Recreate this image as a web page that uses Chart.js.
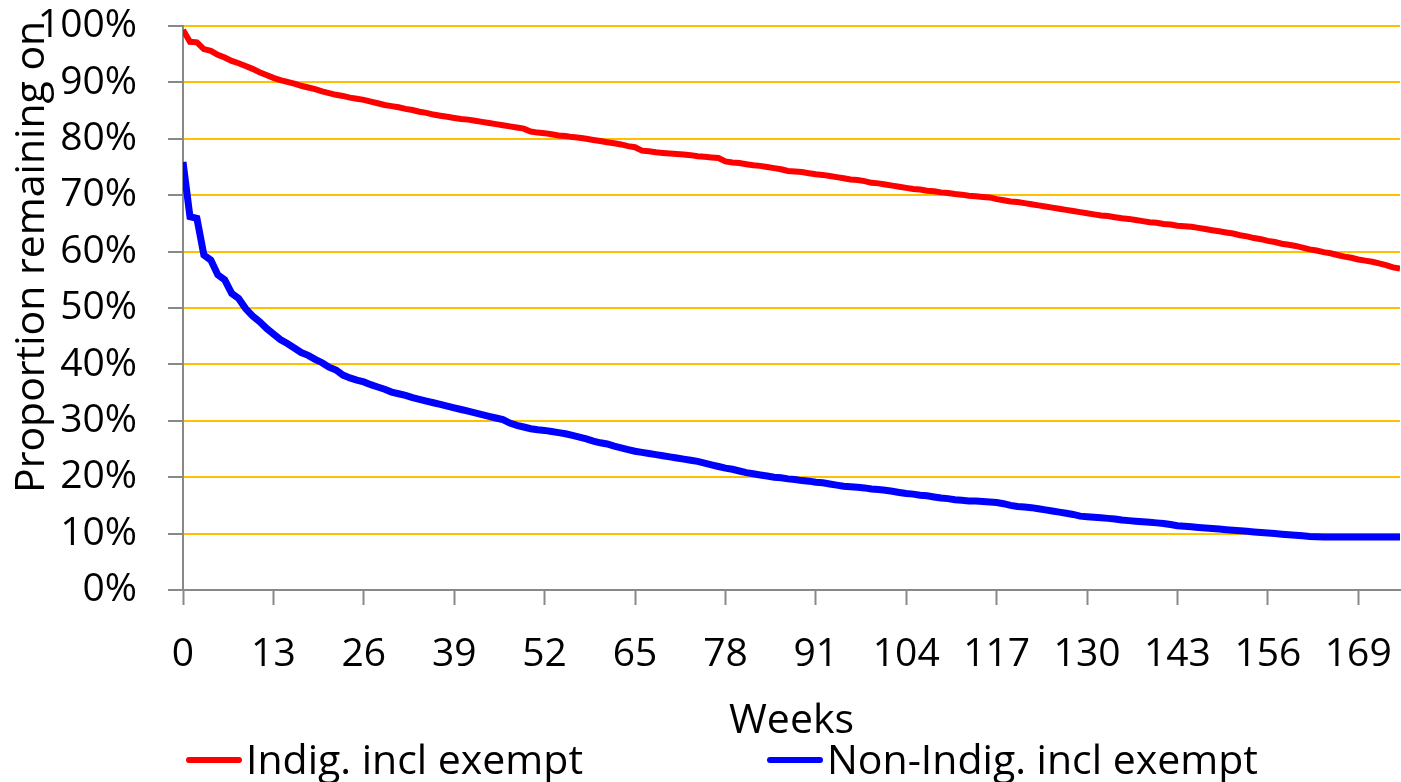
<!DOCTYPE html>
<html>
<head>
<meta charset="utf-8">
<script src="https://cdn.jsdelivr.net/npm/chart.js@4/dist/chart.umd.min.js"></script>
<style>
  html, body { margin: 0; padding: 0; background: #ffffff; }
  #wrap { width: 1401px; height: 782px; position: relative; }
</style>
</head>
<body>
<div id="wrap"><canvas id="chart" width="1401" height="782"></canvas></div>
<script>
// Weeks since entry (x categories)
const weeks = Array.from({ length: 176 }, (_, i) => i);

// Proportion remaining (%) by week
const indigIncl = [
  99.3, 97.2, 97.1, 95.9, 95.6, 94.9, 94.4, 93.8, 93.4, 92.9,
  92.4, 91.8, 91.3, 90.8, 90.4, 90.1, 89.8, 89.4, 89.1, 88.8,
  88.4, 88.1, 87.8, 87.6, 87.3, 87.1, 86.9, 86.6, 86.3, 86.0,
  85.8, 85.6, 85.3, 85.1, 84.8, 84.6, 84.3, 84.1, 83.9, 83.7,
  83.5, 83.4, 83.2, 83.0, 82.8, 82.6, 82.4, 82.2, 82.0, 81.8,
  81.3, 81.1, 81.0, 80.8, 80.6, 80.5, 80.3, 80.2, 80.0, 79.8,
  79.6, 79.4, 79.2, 79.0, 78.7, 78.5, 77.9, 77.8, 77.6, 77.5,
  77.4, 77.3, 77.2, 77.1, 76.9, 76.8, 76.7, 76.6, 76.0, 75.8,
  75.7, 75.5, 75.3, 75.2, 75.0, 74.8, 74.6, 74.3, 74.2, 74.1,
  73.9, 73.7, 73.6, 73.4, 73.2, 73.0, 72.8, 72.7, 72.5, 72.2,
  72.1, 71.9, 71.7, 71.5, 71.3, 71.1, 71.0, 70.8, 70.7, 70.5,
  70.4, 70.2, 70.1, 69.9, 69.8, 69.7, 69.6, 69.3, 69.1, 68.9,
  68.8, 68.6, 68.4, 68.2, 68.0, 67.8, 67.6, 67.4, 67.2, 67.0,
  66.8, 66.6, 66.4, 66.3, 66.1, 65.9, 65.8, 65.6, 65.4, 65.2,
  65.1, 64.9, 64.8, 64.6, 64.5, 64.4, 64.2, 64.0, 63.8, 63.6,
  63.4, 63.2, 62.9, 62.7, 62.4, 62.2, 61.9, 61.7, 61.4, 61.2,
  61.0, 60.7, 60.4, 60.2, 59.9, 59.7, 59.4, 59.1, 58.9, 58.6,
  58.4, 58.2, 57.9, 57.6, 57.2, 57.0
];

const nonIndigIncl = [
  75.9, 66.2, 65.9, 59.4, 58.5, 55.9, 55.0, 52.6, 51.7, 49.9,
  48.6, 47.6, 46.4, 45.4, 44.4, 43.7, 42.9, 42.1, 41.6, 40.9,
  40.3, 39.5, 39.0, 38.1, 37.6, 37.2, 36.9, 36.4, 36.0, 35.6,
  35.1, 34.8, 34.5, 34.1, 33.8, 33.5, 33.2, 32.9, 32.6, 32.3,
  32.0, 31.7, 31.4, 31.1, 30.8, 30.5, 30.2, 29.6, 29.2, 28.9,
  28.6, 28.4, 28.3, 28.1, 27.9, 27.7, 27.4, 27.1, 26.8, 26.4,
  26.1, 25.9, 25.5, 25.2, 24.9, 24.6, 24.4, 24.2, 24.0, 23.8,
  23.6, 23.4, 23.2, 23.0, 22.8, 22.5, 22.2, 21.9, 21.6, 21.4,
  21.1, 20.8, 20.6, 20.4, 20.2, 20.0, 19.9, 19.7, 19.6, 19.4,
  19.3, 19.1, 19.0, 18.8, 18.6, 18.4, 18.3, 18.2, 18.1, 17.9,
  17.8, 17.7, 17.5, 17.3, 17.1, 17.0, 16.8, 16.7, 16.5, 16.3,
  16.2, 16.0, 15.9, 15.8, 15.8, 15.7, 15.6, 15.5, 15.3, 15.0,
  14.8, 14.7, 14.6, 14.4, 14.2, 14.0, 13.8, 13.6, 13.4, 13.1,
  13.0, 12.9, 12.8, 12.7, 12.6, 12.4, 12.3, 12.2, 12.1, 12.0,
  11.9, 11.8, 11.6, 11.4, 11.3, 11.2, 11.1, 11.0, 10.9, 10.8,
  10.7, 10.6, 10.5, 10.4, 10.3, 10.2, 10.1, 10.0, 9.9, 9.8,
  9.7, 9.6, 9.5, 9.45, 9.4, 9.4, 9.4, 9.4, 9.4, 9.4,
  9.4, 9.4, 9.4, 9.4, 9.4, 9.4
];

// Axis tick labels
const xTickValues = [0, 13, 26, 39, 52, 65, 78, 91, 104, 117, 130, 143, 156, 169];
const yTickValues = [0, 10, 20, 30, 40, 50, 60, 70, 80, 90, 100];

const seriesNames = ['Indig. incl exempt', 'Non-Indig. incl exempt'];
const yTitle = 'Proportion remaining on';
const xTitle = 'Weeks';

const FONT = '"Open Sans", "Noto Sans", sans-serif';
const AXIS_GREY = '#898989';
const GRID_GOLD = '#FFC000';

// Rotated y-axis title, anchored near the bottom of the plot like a spreadsheet chart
const yTitlePlugin = {
  id: 'yTitle',
  afterDraw(chart, args, opts) {
    const { ctx, chartArea } = chart;
    ctx.save();
    ctx.font = '41px ' + FONT;
    ctx.fillStyle = '#000000';
    ctx.textAlign = 'left';
    ctx.textBaseline = 'alphabetic';
    ctx.translate(opts.x, chartArea.bottom - opts.fromBottom);
    ctx.rotate(-Math.PI / 2);
    ctx.fillText(yTitle, 0, 0);
    ctx.restore();
  }
};

// Legend row under the axis title
const legendRowPlugin = {
  id: 'legendRow',
  afterDraw(chart, args, opts) {
    const { ctx } = chart;
    ctx.save();
    ctx.font = '41px ' + FONT;
    ctx.textAlign = 'left';
    ctx.textBaseline = 'alphabetic';
    chart.data.datasets.forEach((ds, i) => {
      const x0 = opts.starts[i];
      ctx.strokeStyle = ds.borderColor;
      ctx.lineWidth = 6;
      ctx.lineCap = 'round';
      ctx.beginPath();
      ctx.moveTo(x0 + 3, opts.lineY);
      ctx.lineTo(x0 + opts.sample - 3, opts.lineY);
      ctx.stroke();
      ctx.fillStyle = '#000000';
      ctx.fillText(ds.label, x0 + opts.sample + 4, opts.textY);
    });
    ctx.restore();
  }
};

new Chart(document.getElementById('chart'), {
  type: 'line',
  data: {
    labels: weeks,
    datasets: [
      {
        label: seriesNames[0],
        data: indigIncl,
        borderColor: '#FF0000',
        borderWidth: 6,
        pointRadius: 0,
        tension: 0,
        fill: false
      },
      {
        label: seriesNames[1],
        data: nonIndigIncl,
        borderColor: '#0000FF',
        borderWidth: 7,
        pointRadius: 0,
        tension: 0,
        fill: false
      }
    ]
  },
  options: {
    responsive: false,
    animation: false,
    layout: { padding: { top: 26, right: 1, left: 0, bottom: 0 } },
    plugins: {
      legend: { display: false },
      tooltip: { enabled: false },
      yTitle: { x: 44, fromBottom: 97 },
      legendRow: { starts: [186, 767], sample: 56, lineY: 760, textY: 774 }
    },
    scales: {
      x: {
        type: 'linear',
        min: 0,
        max: 175,
        afterBuildTicks(scale) {
          scale.ticks = xTickValues.map(v => ({ value: v }));
        },
        afterFit(scale) {
          scale.height = 192;
          scale.paddingLeft = 0;
          scale.paddingRight = 0;
        },
        grid: {
          drawOnChartArea: false,
          drawTicks: true,
          tickLength: 15,
          tickWidth: 2,
          tickColor: AXIS_GREY
        },
        border: { color: AXIS_GREY, width: 2 },
        ticks: {
          padding: 26,
          maxRotation: 0,
          autoSkip: false,
          color: '#000000',
          font: { family: FONT, size: 39 }
        },
        title: {
          display: true,
          text: xTitle,
          color: '#000000',
          font: { family: FONT, size: 41 },
          padding: { top: 0, bottom: 36 }
        }
      },
      y: {
        min: 0,
        max: 100,
        afterBuildTicks(scale) {
          scale.ticks = yTickValues.map(v => ({ value: v }));
        },
        afterFit(scale) {
          scale.width = 183;
          scale.paddingTop = 0;
          scale.paddingBottom = 0;
        },
        grid: {
          color: GRID_GOLD,
          lineWidth: 2,
          drawTicks: true,
          tickLength: 15,
          tickWidth: 2,
          tickColor: AXIS_GREY
        },
        border: { color: AXIS_GREY, width: 2 },
        ticks: {
          padding: 31,
          color: '#000000',
          font: { family: FONT, size: 39 },
          callback: v => v + '%'
        }
      }
    }
  },
  plugins: [yTitlePlugin, legendRowPlugin]
});
</script>
</body>
</html>
